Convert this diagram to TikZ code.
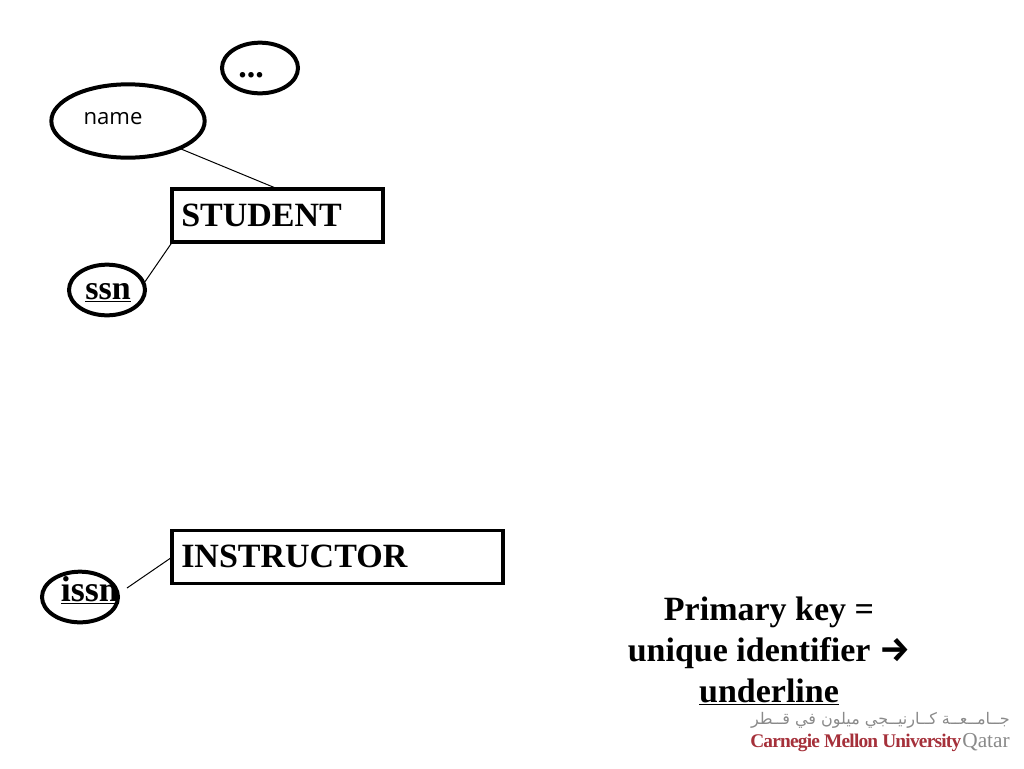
\documentclass[tikz,border=0pt]{standalone}
\usepackage{fontspec}
\setmainfont{Liberation Serif}
\newfontfamily\namefont{Open Sans}
\newfontfamily\arrowfont{Fira Sans}
\newfontfamily\arabicfont[Script=Arabic]{DejaVu Sans}
\TeXXeTstate=1
\usetikzlibrary{shapes.geometric}
\definecolor{cmured}{HTML}{A5303A}
\definecolor{logogray}{HTML}{8A8A8A}
\tikzset{
    entitybox/.style={draw, line width=2.6pt, outer sep=0pt, inner sep=0pt, minimum height=40pt},
    attrib/.style={draw, ellipse, line width=3pt, outer sep=0pt, inner sep=0pt},
    boldtext/.style={font=\fontsize{25.5}{30.75}\selectfont\bfseries, inner sep=0pt},
    link/.style={line width=0.75pt}
}
\begin{document}
\begin{tikzpicture}[x=0.75pt, y=-0.75pt]
        \useasboundingbox (0,0) rectangle (1024,768);
        % entities
        \node[entitybox, minimum width=158pt] (student) at (277.5,215.5) {};
        \node[boldtext, anchor=base west] (studenttext) at (181,226) {STUDENT};
        \node[entitybox, minimum width=248pt] (instructor) at (337.5,557) {};
        \node[boldtext, anchor=base west] (instructortext) at (181,567) {INSTRUCTOR};
        % attributes
        \node[attrib, minimum width=57pt, minimum height=38pt] (more) at (260,68) {};
        \node[boldtext, anchor=base] (moretext) at (251,77) {...};
        \node[attrib, minimum width=115pt, minimum height=55pt] (name) at (128,121) {};
        \node[font=\namefont\fontsize{16.6}{18}\selectfont, inner sep=0pt, anchor=base] (nametext) at (113,124) {name};
        \node[attrib, minimum width=57pt, minimum height=38pt] (ssn) at (107,290) {};
        \node[boldtext, anchor=base] (ssntext) at (108,299) {\underline{ssn}};
        \node[attrib, minimum width=57pt, minimum height=38pt] (issn) at (80,597) {};
        \node[boldtext, anchor=base] (issntext) at (90,601) {\fontsize{27}{30}\selectfont\underline{issn}};
        \coordinate (issnend) at (127,588);
        % connectors
        \draw[link] (name.-28) -- (student.north);
        \draw[link] (student.south west) -- (ssn.10);
        \draw[link] (instructor.west) -- (issnend);
        % note
        \node[boldtext, align=center] (note) at (769,651) {Primary key =\\unique identifier {\arrowfont\bfseries\fontsize{26}{30.75}\selectfont →}\\\underline{underline}};
        % logo
        \node[font=\arabicfont\fontsize{12}{15}\selectfont, text=logogray, inner sep=0pt, anchor=east] (logoarabic) at (1010,720) {\beginR جــامــعــة كــارنيــجي ميلون في قــطر\endR};
        \node[font=\fontsize{14.5}{16}\selectfont\bfseries\addfontfeature{LetterSpace=-4}, text=cmured, inner sep=0pt, anchor=base west] (logocmu) at (750,747) {Carnegie Mellon University};
        \node[font=\fontsize{16}{16}\selectfont, text=logogray, inner sep=0pt, anchor=base east] (logoqatar) at (1010,747) {Qatar};
        \end{tikzpicture}
\end{document}
